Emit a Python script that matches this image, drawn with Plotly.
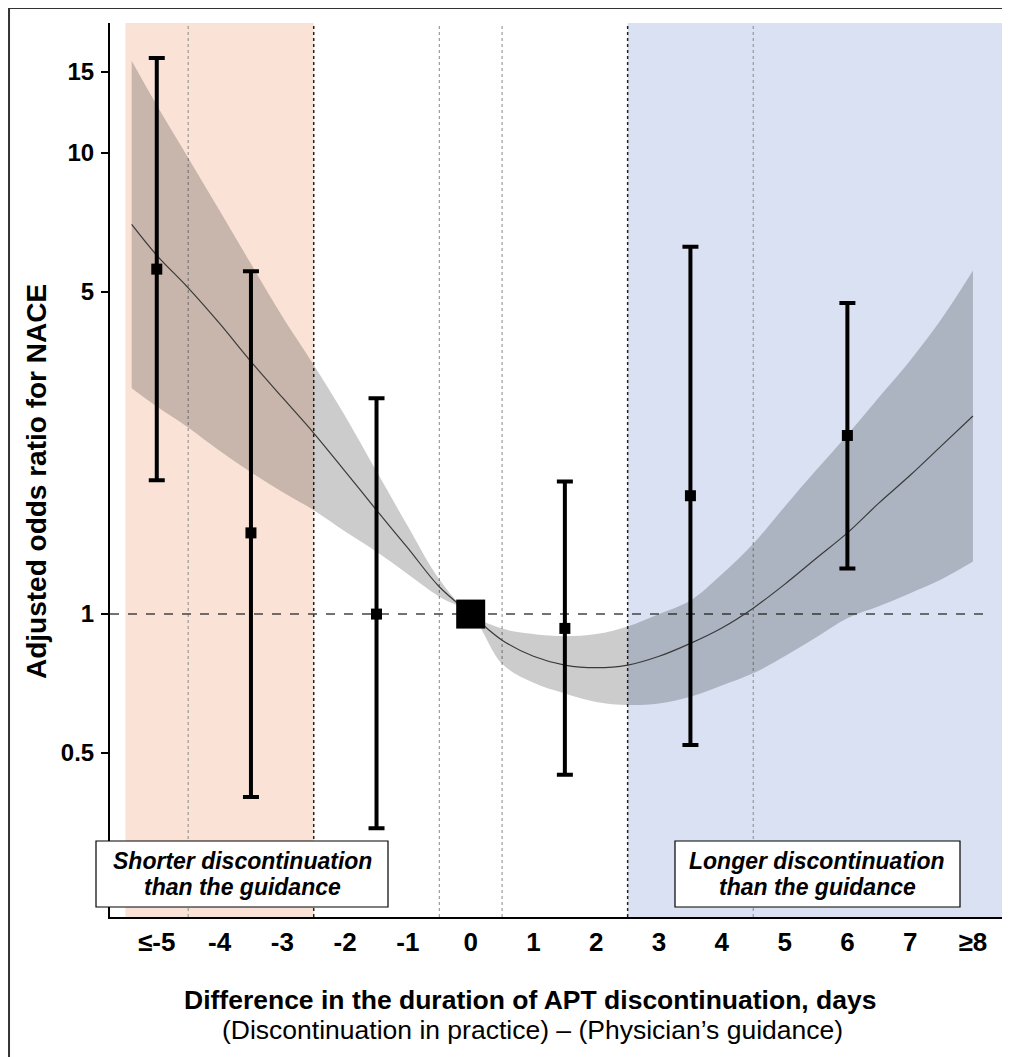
import plotly.graph_objects as go

# ---- data ----
curve_x = [-5.4, -5, -4.5, -4, -3.5, -3, -2.5, -2, -1.5, -1, -0.5, 0, 0.5, 1, 1.5, 2,
           2.5, 3, 3.5, 4, 4.5, 5, 5.5, 6, 6.5, 7, 7.5, 8]
curve_or = [7.0, 6.0, 5.1, 4.27, 3.53, 2.95, 2.47, 2.04, 1.68, 1.39, 1.146, 1.0, 0.878,
            0.81, 0.775, 0.765, 0.775, 0.81, 0.864, 0.933, 1.03, 1.16, 1.32, 1.50, 1.74,
            2.0, 2.32, 2.69]
curve_lo = [3.09, 2.82, 2.54, 2.26, 2.03, 1.84, 1.68, 1.51, 1.365, 1.22, 1.09, 1.0, 0.78,
            0.71, 0.673, 0.645, 0.635, 0.64, 0.662, 0.70, 0.744, 0.81, 0.89, 0.98, 1.04,
            1.11, 1.19, 1.30]
curve_hi = [15.85, 12.7, 9.77, 7.5, 5.75, 4.42, 3.47, 2.69, 2.04, 1.55, 1.19, 1.0, 0.93,
            0.905, 0.895, 0.905, 0.94, 1.0, 1.07, 1.22, 1.42, 1.71, 2.05, 2.45, 2.95,
            3.55, 4.37, 5.56]

pt_x = [-5, -3.5, -1.5, 1.5, 3.5, 6]
pt_or = [5.6, 1.50, 1.00, 0.931, 1.806, 2.44]
pt_lo = [1.95, 0.401, 0.343, 0.448, 0.52, 1.256]
pt_hi = [16.07, 5.54, 2.94, 1.94, 6.26, 4.73]

ref_x = [0]
ref_or = [1.0]

tick_vals = [-5, -4, -3, -2, -1, 0, 1, 2, 3, 4, 5, 6, 7, 8]
tick_text = ["≤-5", "-4", "-3", "-2", "-1", "0", "1", "2", "3", "4", "5", "6", "7", "≥8"]
y_tick_vals = [0.5, 1, 5, 10, 15]
y_tick_text = ["0.5", "1", "5", "10", "15"]

FONT = "Liberation Sans, Arial, sans-serif"
XR = [-5.745, 8.59]
YR = [-0.657, 1.282]

# page body has an 8px margin: figure pixel = screen pixel - 8
W, H = 1002, 1049
ML, MT, MB = 102, 15, 140


def px_x(sx):
    return (sx - 110) / 900.0


def px_y(sy):
    return (917 - sy) / 894.0


fig = go.Figure()

# confidence band
fig.add_trace(go.Scatter(x=curve_x, y=curve_hi, mode="lines", line=dict(width=0, shape="spline"),
                         hoverinfo="skip", showlegend=False))
fig.add_trace(go.Scatter(x=curve_x, y=curve_lo, mode="lines", line=dict(width=0, shape="spline"),
                         fill="tonexty", fillcolor="rgba(0,0,0,0.2)", hoverinfo="skip",
                         showlegend=False))
# spline curve
fig.add_trace(go.Scatter(x=curve_x, y=curve_or, mode="lines",
                         line=dict(color="#3a3a3a", width=1.2, shape="spline"),
                         showlegend=False))
# points with CI
err_plus = [h - v for h, v in zip(pt_hi, pt_or)]
err_minus = [v - l for v, l in zip(pt_or, pt_lo)]
fig.add_trace(go.Scatter(x=pt_x, y=pt_or, mode="markers",
                         marker=dict(symbol="square", size=11, color="black"),
                         error_y=dict(type="data", array=err_plus, arrayminus=err_minus,
                                      thickness=4, width=8, color="black"),
                         showlegend=False))
fig.add_trace(go.Scatter(x=ref_x, y=ref_or, mode="markers",
                         marker=dict(symbol="square", size=29, color="black"),
                         showlegend=False))

shapes = []
# shaded regions
shapes.append(dict(type="rect", xref="x", yref="paper", x0=-5.5, x1=-2.5, y0=0, y1=1,
                   fillcolor="#FAE3D6", line=dict(width=0), layer="below"))
shapes.append(dict(type="rect", xref="x", yref="paper", x0=2.5, x1=8.5, y0=0, y1=1,
                   fillcolor="#D9E1F2", line=dict(width=0), layer="below"))
# dotted verticals
for xv in [-4.5, -0.5, 0.5, 4.5]:
    shapes.append(dict(type="line", xref="x", yref="paper", x0=xv, x1=xv, y0=0, y1=1,
                       line=dict(color="#888888", width=1, dash="dot"), layer="below"))
for xv in [-2.5, 2.5]:
    shapes.append(dict(type="line", xref="x", yref="paper", x0=xv, x1=xv, y0=0, y1=1,
                       line=dict(color="#222222", width=1.5, dash="dot"), layer="below"))
# reference line at OR = 1
shapes.append(dict(type="line", xref="x", yref="y", x0=XR[0], x1=8.3, y0=1, y1=1,
                   line=dict(color="#444444", width=1.5, dash="dash"), layer="below"))
# outer frame (left and top)
top_paper = (909 - 0) / 894.0
shapes.append(dict(type="line", xref="paper", yref="paper", x0=-0.1122, x1=-0.1122,
                   y0=top_paper, y1=-0.3, line=dict(color="#333333", width=2)))
shapes.append(dict(type="line", xref="paper", yref="paper", x0=-0.1122, x1=1.1,
                   y0=top_paper, y1=top_paper, line=dict(color="#333333", width=2)))
# label boxes
shapes.append(dict(type="rect", xref="paper", yref="paper", x0=px_x(96), x1=px_x(388),
                   y0=px_y(907), y1=px_y(841), fillcolor="white",
                   line=dict(color="black", width=1.2)))
shapes.append(dict(type="rect", xref="paper", yref="paper", x0=px_x(675), x1=px_x(960),
                   y0=px_y(907), y1=px_y(841), fillcolor="white",
                   line=dict(color="black", width=1.2)))

box_font = dict(family=FONT, size=23, color="black", weight="bold", style="italic")
annotations = []
for cx, l1, l2 in [(242, "Shorter discontinuation", "than the guidance"),
                   (817, "Longer discontinuation", "than the guidance")]:
    annotations.append(dict(xref="paper", yref="paper", x=px_x(cx), y=px_y(861), text=l1,
                            showarrow=False, font=box_font, xanchor="center", yanchor="middle"))
    annotations.append(dict(xref="paper", yref="paper", x=px_x(cx), y=px_y(887), text=l2,
                            showarrow=False, font=box_font, xanchor="center", yanchor="middle"))

annotations += [
    dict(xref="paper", yref="paper", x=px_x(530), y=px_y(1000),
         text="<b>Difference in the duration of APT discontinuation, days</b>",
         showarrow=False, font=dict(family=FONT, size=26.5, color="black"),
         xanchor="center", yanchor="middle"),
    dict(xref="paper", yref="paper", x=px_x(532), y=px_y(1030),
         text="(Discontinuation in practice) – (Physician’s guidance)",
         showarrow=False, font=dict(family=FONT, size=26.5, color="black"),
         xanchor="center", yanchor="middle"),
    dict(xref="paper", yref="paper", x=px_x(36), y=px_y(482),
         text="<b>Adjusted odds ratio for NACE</b>", textangle=-90,
         showarrow=False, font=dict(family=FONT, size=28, color="black"),
         xanchor="center", yanchor="middle"),
]

fig.update_layout(
    width=W, height=H,
    margin=dict(l=ML, r=0, t=MT, b=MB, pad=0),
    paper_bgcolor="white", plot_bgcolor="white",
    shapes=shapes, annotations=annotations,
    font=dict(family=FONT, color="black"),
    showlegend=False,
)
fig.update_xaxes(range=XR, tickmode="array", tickvals=tick_vals, ticktext=tick_text,
                 showgrid=False, zeroline=False, showline=True, linecolor="black",
                 linewidth=2, ticks="", ticklabelstandoff=1,
                 tickfont=dict(family=FONT, size=26, color="black", weight="bold"))
fig.update_yaxes(type="log", range=YR, tickmode="array", tickvals=y_tick_vals,
                 ticktext=y_tick_text, showgrid=False, zeroline=False, showline=True,
                 linecolor="black", linewidth=2, ticks="outside", ticklen=7, tickwidth=2,
                 tickcolor="black", ticklabelstandoff=2,
                 tickfont=dict(family=FONT, size=24, color="black", weight="bold"))

fig.write_html("out.html")
